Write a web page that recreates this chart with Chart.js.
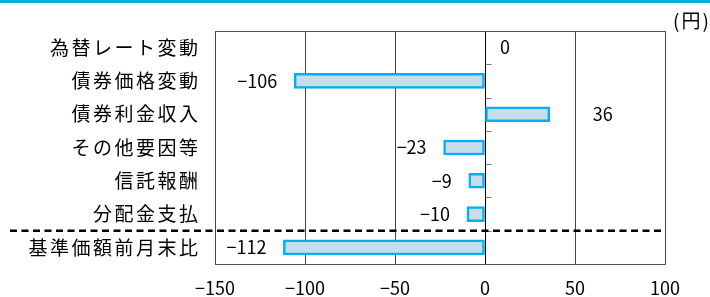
<!DOCTYPE html>
<html lang="ja">
<head>
<meta charset="UTF-8">
<title>基準価額の変動要因</title>
<script src="https://cdn.jsdelivr.net/npm/chart.js"></script>
<style>
  html, body { margin: 0; padding: 0; background: #fff; }
  #wrap { width: 710px; height: 297px; }
</style>
</head>
<body>
<div id="wrap"><canvas id="factorChart" width="710" height="297"></canvas></div>
<script>
// data
const categories = ['為替レート変動', '債券価格変動', '債券利金収入', 'その他要因等', '信託報酬', '分配金支払', '基準価額前月末比'];
const values = [0, -106, 36, -23, -9, -10, -112];
const xTicks = [-150, -100, -50, 0, 50, 100];
const unitLabel = '(円)';

const FONT = '"Noto Sans CJK JP", "Noto Sans", sans-serif';
const fmt = v => (v < 0 ? '\u2212' + Math.abs(v) : String(v));

// top stripe, unit, frame top, dashed separator, y labels, small ticks on zero line, value labels
const decor = {
  id: 'decor',
  afterDraw(chart, args, opts) {
    const { ctx, chartArea: a, scales: { x, y } } = chart;
    ctx.save();

    ctx.fillStyle = '#00b2d4';
    ctx.fillRect(0, 0, chart.width, 3);

    ctx.fillStyle = '#000';
    ctx.font = '19px ' + FONT;
    ctx.textAlign = 'left';
    ctx.textBaseline = 'middle';
    ctx.letterSpacing = '2px';
    ctx.fillText(unitLabel, 673, 21);

    // top border of frame
    ctx.strokeStyle = '#555';
    ctx.lineWidth = 1;
    ctx.beginPath();
    ctx.moveTo(a.left, a.top + 0.5);
    ctx.lineTo(a.right, a.top + 0.5);
    ctx.stroke();

    // small ticks on the zero line
    const x0 = Math.round(x.getPixelForValue(0)) + 0.5;
    ctx.strokeStyle = '#777';
    for (let i = 1; i < categories.length; i++) {
      const yy = Math.round((y.getPixelForValue(i - 1) + y.getPixelForValue(i)) / 2) + 0.5;
      ctx.beginPath();
      ctx.moveTo(x0, yy);
      ctx.lineTo(x0 + 6, yy);
      ctx.stroke();
    }

    // dashed separator above the total
    const n = categories.length;
    const ySep = (y.getPixelForValue(n - 2) + y.getPixelForValue(n - 1)) / 2;
    ctx.strokeStyle = '#000';
    ctx.lineWidth = 2.5;
    ctx.setLineDash([7, 4.5]);
    ctx.beginPath();
    ctx.moveTo(10, ySep);
    ctx.lineTo(a.right, ySep);
    ctx.stroke();
    ctx.setLineDash([]);

    // category labels
    ctx.font = '19px ' + FONT;
    ctx.textAlign = 'right';
    ctx.letterSpacing = '2.5px';
    categories.forEach((c, i) => {
      ctx.fillText(c, 200.5, y.getPixelForValue(i));
    });
    ctx.letterSpacing = '0px';

    // value labels
    ctx.font = '18px ' + FONT;
    const meta = chart.getDatasetMeta(0);
    meta.data.forEach((bar, i) => {
      const v = values[i];
      const end = x.getPixelForValue(v);
      const gap = opts.gaps[i];
      if (v < 0) {
        ctx.textAlign = 'right';
        ctx.fillText(fmt(v), end - gap, bar.y);
      } else {
        ctx.textAlign = 'left';
        ctx.fillText(fmt(v), end + gap, bar.y);
      }
    });
    ctx.restore();
  }
};

new Chart(document.getElementById('factorChart'), {
  type: 'bar',
  data: {
    labels: categories,
    datasets: [{
      data: values,
      backgroundColor: '#c8dcec',
      borderColor: '#00b0f0',
      borderWidth: 2.5,
      borderSkipped: false,
      barThickness: 15
    }]
  },
  options: {
    indexAxis: 'y',
    responsive: false,
    animation: false,
    layout: { padding: { left: 215, right: 45, top: 31, bottom: 0 } },
    plugins: {
      legend: { display: false },
      tooltip: { enabled: false },
      decor: { gaps: [15, 17, 43, 17, 17, 17, 17] }
    },
    scales: {
      y: {
        display: false,
        offset: true
      },
      x: {
        min: -150,
        max: 100,
        afterBuildTicks: s => { s.ticks = xTicks.map(v => ({ value: v })); },
        afterFit: s => { s.height = 33; },
        grid: {
          drawTicks: false,
          color: c => (c.tick && c.tick.value === 0 ? '#000' : '#444'),
          lineWidth: 1
        },
        border: { display: true, color: '#555' },
        ticks: {
          padding: 13,
          color: '#000',
          font: { family: FONT, size: 18 },
          callback: v => fmt(v)
        }
      }
    }
  },
  plugins: [decor]
});
</script>
</body>
</html>
